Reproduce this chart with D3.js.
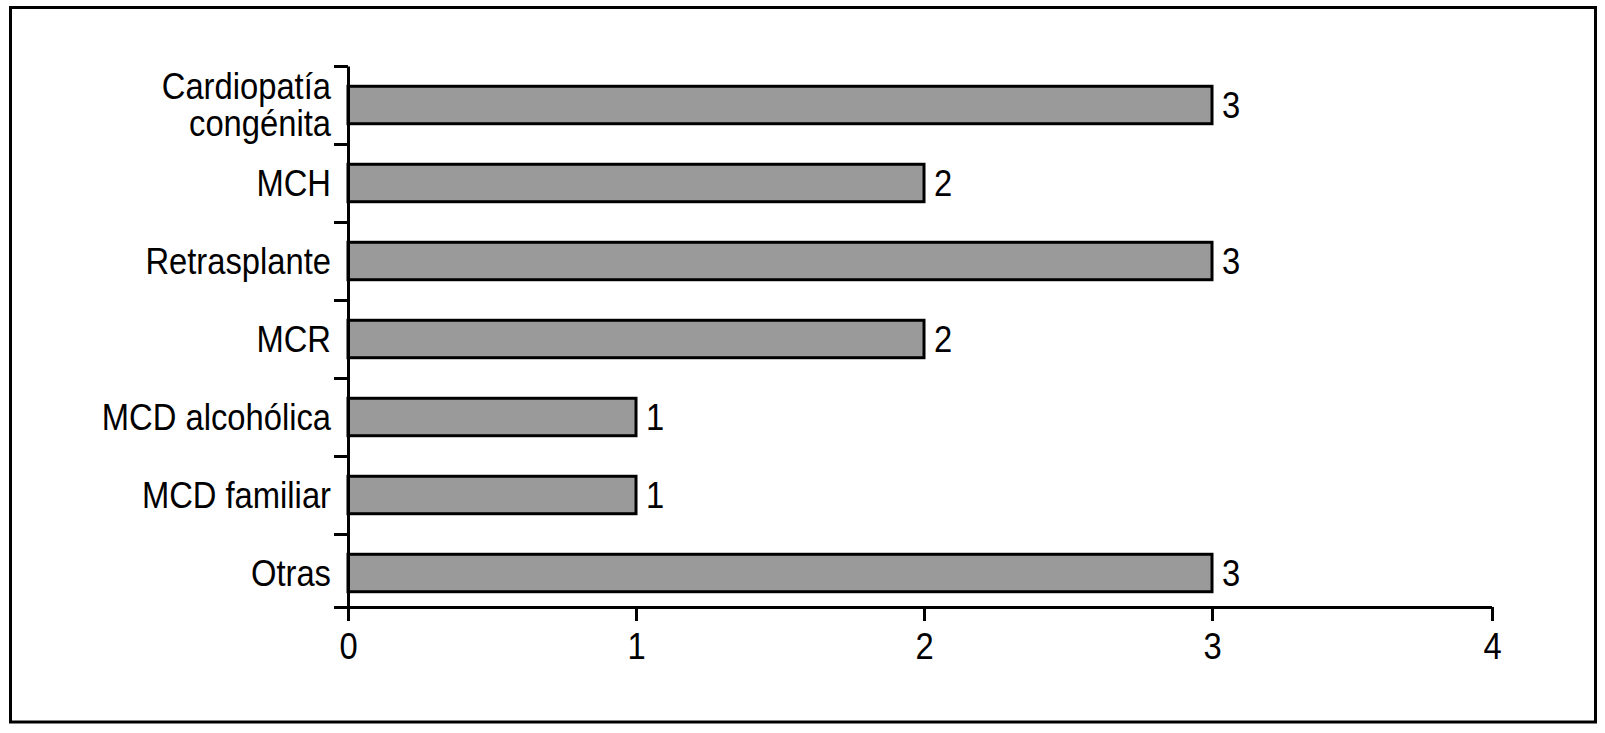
<!DOCTYPE html>
<html>
<head>
<meta charset="utf-8">
<script src="https://cdn.jsdelivr.net/npm/d3@7"></script>
<style>
  html, body { margin: 0; padding: 0; background: #fff; }
  svg { display: block; }
  text { font-family: "Liberation Sans", Arial, sans-serif; fill: #000; }
</style>
</head>
<body>
<svg id="chart" width="1605" height="733"></svg>
<script>
const categories = [["Cardiopatía", "congénita"], ["MCH"], ["Retrasplante"], ["MCR"], ["MCD alcohólica"], ["MCD familiar"], ["Otras"]];
const values = [3, 2, 3, 2, 1, 1, 3];
const xTicks = [0, 1, 2, 3, 4];

const svg = d3.select("#chart");
const fontSize = 37;
const squeeze = 0.885;

// frame
svg.append("rect")
  .attr("x", 10.5).attr("y", 7.5).attr("width", 1585).attr("height", 714.5)
  .attr("fill", "none").attr("stroke", "#000").attr("stroke-width", 3);

const x = d3.scaleLinear().domain([0, 3, 4]).range([348, 1212, 1492]);
const keys = categories.map((c, i) => i);
const y = d3.scaleBand().domain(keys).range([66, 612]).paddingInner(0.52).paddingOuter(0.26);
const yEdges = d3.scaleLinear().domain([0, 7]).range([66, 612]);
const axisY = 607;

// bars
svg.append("g").selectAll("rect")
  .data(values)
  .join("rect")
  .attr("x", x(0))
  .attr("y", (d, i) => y(i))
  .attr("width", d => x(d) - x(0))
  .attr("height", y.bandwidth())
  .attr("fill", "#9a9a9a")
  .attr("stroke", "#000")
  .attr("stroke-width", 3);

// value labels
svg.append("g").selectAll("text")
  .data(values)
  .join("text")
  .attr("transform", (d, i) => `translate(${x(d) + 10},${y(i) + y.bandwidth() / 2}) scale(${squeeze},1)`)
  .attr("dy", "0.35em")
  .attr("font-size", fontSize)
  .text(d => d);

// y axis (band boundaries)
const gy = svg.append("g")
  .attr("transform", `translate(${x(0)},0)`)
  .call(d3.axisLeft(yEdges).tickValues([0, 1, 2, 3, 4, 5, 6]).tickSize(14).tickSizeOuter(0).tickFormat(""));
gy.selectAll("path, line").attr("stroke", "#000").attr("stroke-width", 3);

// category labels
const lab = svg.append("g").selectAll("text")
  .data(categories)
  .join("text")
  .attr("text-anchor", "end")
  .attr("font-size", fontSize)
  .attr("transform", (d, i) => `translate(331,${y(i) + y.bandwidth() / 2}) scale(${squeeze},1)`);
lab.each(function(lines) {
  const t = d3.select(this);
  const lh = 37;
  lines.forEach((ln, k) => {
    t.append("tspan")
      .attr("x", 0)
      .attr("dy", k === 0 ? (0.35 * fontSize - (lines.length - 1) * lh / 2) : lh)
      .text(ln);
  });
});

// x axis
const gx = svg.append("g")
  .attr("transform", `translate(0,${axisY})`)
  .call(d3.axisBottom(x).tickValues(xTicks).tickSize(14).tickSizeOuter(0).tickPadding(12).tickFormat(d3.format("d")));
gx.selectAll("path, line").attr("stroke", "#000").attr("stroke-width", 3);
gx.selectAll(".tick text")
  .attr("font-size", fontSize).attr("font-family", null).attr("fill", "#000")
  .attr("transform", `scale(${squeeze},1)`)
  .attr("x", function(d) { return 0; });
// keep tick labels centred on ticks under the squeeze
gx.selectAll(".tick").each(function() {
  const tr = d3.select(this).attr("transform");
  d3.select(this).select("text").attr("transform", `scale(${squeeze},1)`);
});
// extend x-axis baseline left to form the bottom y tick
gx.select("path.domain").attr("d", `M${x(0) - 14},0.5H${x(4)}`);
</script>
</body>
</html>
